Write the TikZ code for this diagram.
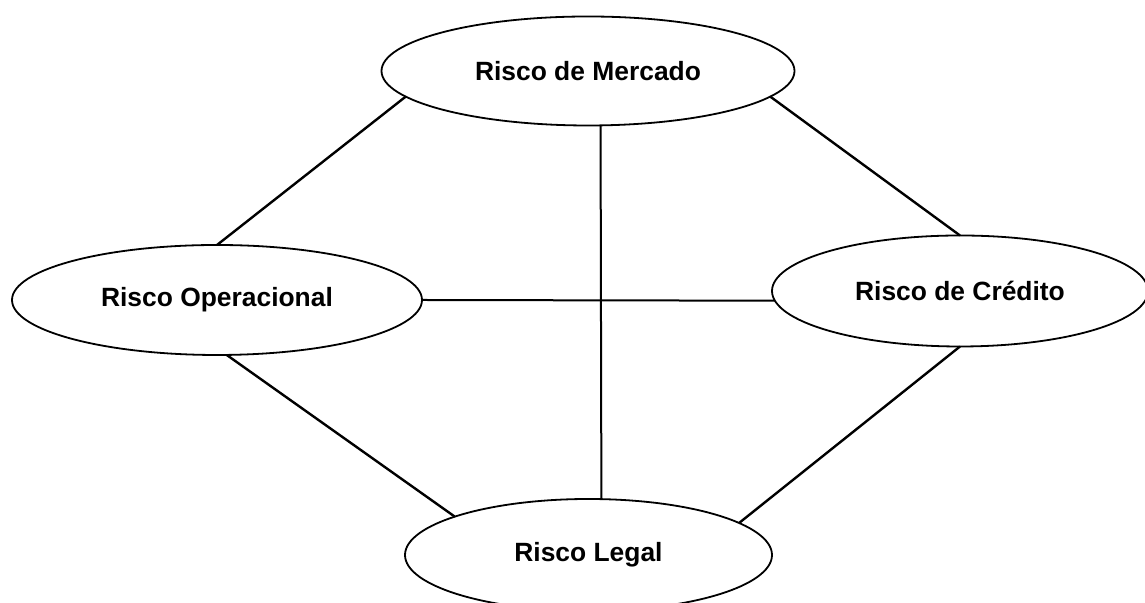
\documentclass[tikz,border=0pt]{standalone}
\usepackage{fontspec}
\setmainfont{Liberation Sans}
\usetikzlibrary{shapes.geometric}
\begin{document}
\begin{tikzpicture}[x=0.5pt,y=0.5pt,
  risk/.style={draw, ellipse, line width=0.9pt, inner sep=0pt, outer sep=0pt,
    font=\fontsize{13.2}{15}\selectfont\bfseries},
  link/.style={line width=1.2pt},
  thinlink/.style={line width=1pt}]
\useasboundingbox (0,0) rectangle (1145,603);
\node[risk, minimum width=206.5pt, minimum height=54.5pt] (mer) at (588,532) {Risco de Mercado};
\node[risk, minimum width=205pt, minimum height=55pt] (ope) at (217,303) {Risco Operacional};
\node[risk, minimum width=188pt, minimum height=55.5pt] (cre) at (960,312) {Risco de Crédito};
\node[risk, minimum width=183.5pt, minimum height=56pt] (leg) at (588.5,48) {Risco Legal};
\draw[link] (mer.188) -- (ope.north);
\draw[link] (mer.352) -- (cre.north);
\draw[link] (ope.280) -- (leg.164);
\draw[link] (cre.south) -- (leg.12);
\draw[thinlink] (ope.east) -- (cre.183);
\draw[thinlink] (mer.283) -- (leg.77);
\end{tikzpicture}
\end{document}
